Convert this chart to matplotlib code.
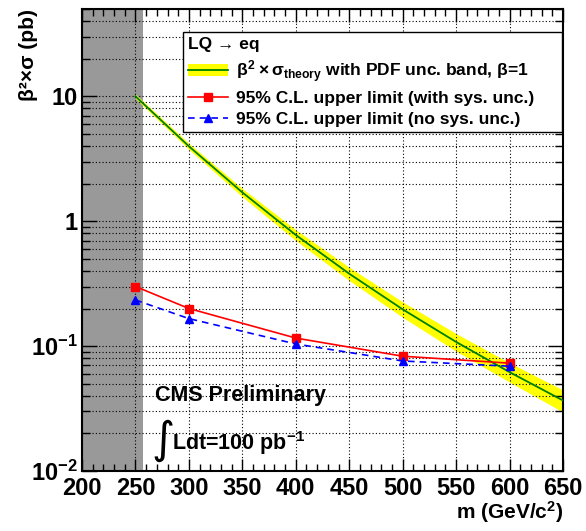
import matplotlib
matplotlib.use("Agg")
import matplotlib.pyplot as plt
from matplotlib.lines import Line2D
from matplotlib.patches import Patch
from matplotlib.legend_handler import HandlerTuple
from matplotlib.ticker import FixedLocator, FixedFormatter, MultipleLocator, NullFormatter

plt.rcParams['font.family'] = ['Liberation Sans', 'DejaVu Sans']
plt.rcParams['font.weight'] = 'bold'
plt.rcParams['mathtext.fontset'] = 'custom'
plt.rcParams['mathtext.rm'] = 'Liberation Sans:bold'
plt.rcParams['mathtext.bf'] = 'Liberation Sans:bold'
plt.rcParams['mathtext.it'] = 'Liberation Sans:bold'

# ---- data ----
mass_theory = [250, 300, 350, 400, 450, 500, 550, 600, 650]
xsec_theory = [10.0, 3.98, 1.70, 0.776, 0.380, 0.197, 0.108, 0.0619, 0.0367]
xsec_theory_up = [10.4, 4.2, 1.83, 0.855, 0.428, 0.226, 0.126, 0.0735, 0.0445]
xsec_theory_dn = [9.6, 3.76, 1.57, 0.70, 0.335, 0.170, 0.091, 0.0515, 0.0296]

mass_limit = [250, 300, 400, 500, 600]
limit_sys = [0.30, 0.20, 0.116, 0.083, 0.073]
limit_nosys = [0.234, 0.166, 0.104, 0.076, 0.069]

excluded_lo, excluded_hi = 200, 257

W, H = 586, 531
fig = plt.figure(figsize=(W/100, H/100), dpi=100)
ax = fig.add_axes([82/W, 1-471/H, (563-82)/W, (471-9)/H])

ax.set_xlim(200, 650)
ax.set_yscale('log')
ax.set_ylim(0.01, 50)

ax.axvspan(excluded_lo, excluded_hi, color='#999999', zorder=0.5, lw=0)

ax.fill_between(mass_theory, xsec_theory_dn, xsec_theory_up, color='#ffff00', lw=0, zorder=2)
ax.plot(mass_theory, xsec_theory, color='#008000', lw=1.3, zorder=3)
ax.plot(mass_limit, limit_sys, color='red', lw=1.2, marker='s', ms=5.5, zorder=4)
ax.plot(mass_limit, limit_nosys, color='blue', lw=1.2, ls=(0, (4, 3)), marker='^', ms=5.5, zorder=4)

# axes / grid
ax.xaxis.set_major_locator(MultipleLocator(50))
ax.xaxis.set_minor_locator(MultipleLocator(10))
decades = [0.01, 0.1, 1, 10]
ax.yaxis.set_major_locator(FixedLocator(decades))
ax.yaxis.set_major_formatter(FixedFormatter([r'$10^{-2}$', r'$10^{-1}$', '1', '10']))
minors = [m * d for d in decades for m in range(2, 10) if m * d <= 50]
ax.yaxis.set_minor_locator(FixedLocator(minors))
ax.yaxis.set_minor_formatter(NullFormatter())
ax.grid(True, which='major', axis='x', color='black', ls=(0, (1, 2)), lw=0.8, zorder=1)
ax.grid(True, which='both', axis='y', color='black', ls=(0, (1, 2)), lw=0.8, zorder=1)
ax.set_axisbelow(False)

ax.tick_params(axis='both', which='both', direction='in', top=True, right=True, width=1)
ax.tick_params(axis='x', which='major', length=9, labelsize=17, pad=4)
ax.tick_params(axis='x', which='minor', length=5)
ax.tick_params(axis='y', which='major', length=11, labelsize=17, pad=3)
ax.tick_params(axis='y', which='minor', length=6)
for lab in ax.get_xticklabels() + ax.get_yticklabels():
    lab.set_fontweight('bold')
for s in ax.spines.values():
    s.set_linewidth(1.5)

fig.text(0.048, 0.983, 'β²×σ (pb)', rotation=90, ha='center', va='top', fontsize=15, fontweight='bold')
fig.text(563/W, 1-512/H, r'm (GeV/c$^{2}$)', ha='right', va='center', fontsize=15, fontweight='bold')

# annotations
fig.text(155/W, 1-396/H, 'CMS Preliminary', fontsize=15.5, fontweight='bold', va='center', ha='left')
fig.text(151/W, 1-440/H, '∫', fontsize=32, fontweight='normal', va='center', ha='left',
         family=['DejaVu Sans'])
fig.text(172/W, 1-443/H, r'Ldt=100 pb$^{-1}$', fontsize=15.5, fontweight='bold', va='center', ha='left')

handles = [(Patch(facecolor='#ffff00', edgecolor='none'), Line2D([], [], color='#008000', lw=1.3)),
           Line2D([], [], color='red', lw=1.2, marker='s', ms=5.5),
           Line2D([], [], color='blue', lw=1.2, ls=(0, (4, 3)), marker='^', ms=5.5)]
labels = [r'$\beta^{2}\times\sigma_{theory}$ with PDF unc. band, $\beta$=1',
          '95% C.L. upper limit (with sys. unc.)',
          '95% C.L. upper limit (no sys. unc.)']
leg = ax.legend(handles, labels, handler_map={tuple: HandlerTuple(ndivide=1, pad=0)},
                loc='upper left',
                bbox_to_anchor=((183-82)/481, (471-130)/462, (562-183)/481, (130-32)/462),
                mode='expand',
                title='LQ → eq', alignment='left', fontsize=12.5, title_fontsize=12.5,
                frameon=True, fancybox=False, edgecolor='black', framealpha=1,
                borderpad=0.3, labelspacing=0.35, handlelength=2.3, handletextpad=0.45,
                borderaxespad=0)
leg.get_frame().set_linewidth(1.0)
leg.get_title().set_fontweight('bold')
for t in leg.get_texts():
    t.set_fontweight('bold')
leg.set_zorder(10)

fig.savefig('out.png', dpi=100)
